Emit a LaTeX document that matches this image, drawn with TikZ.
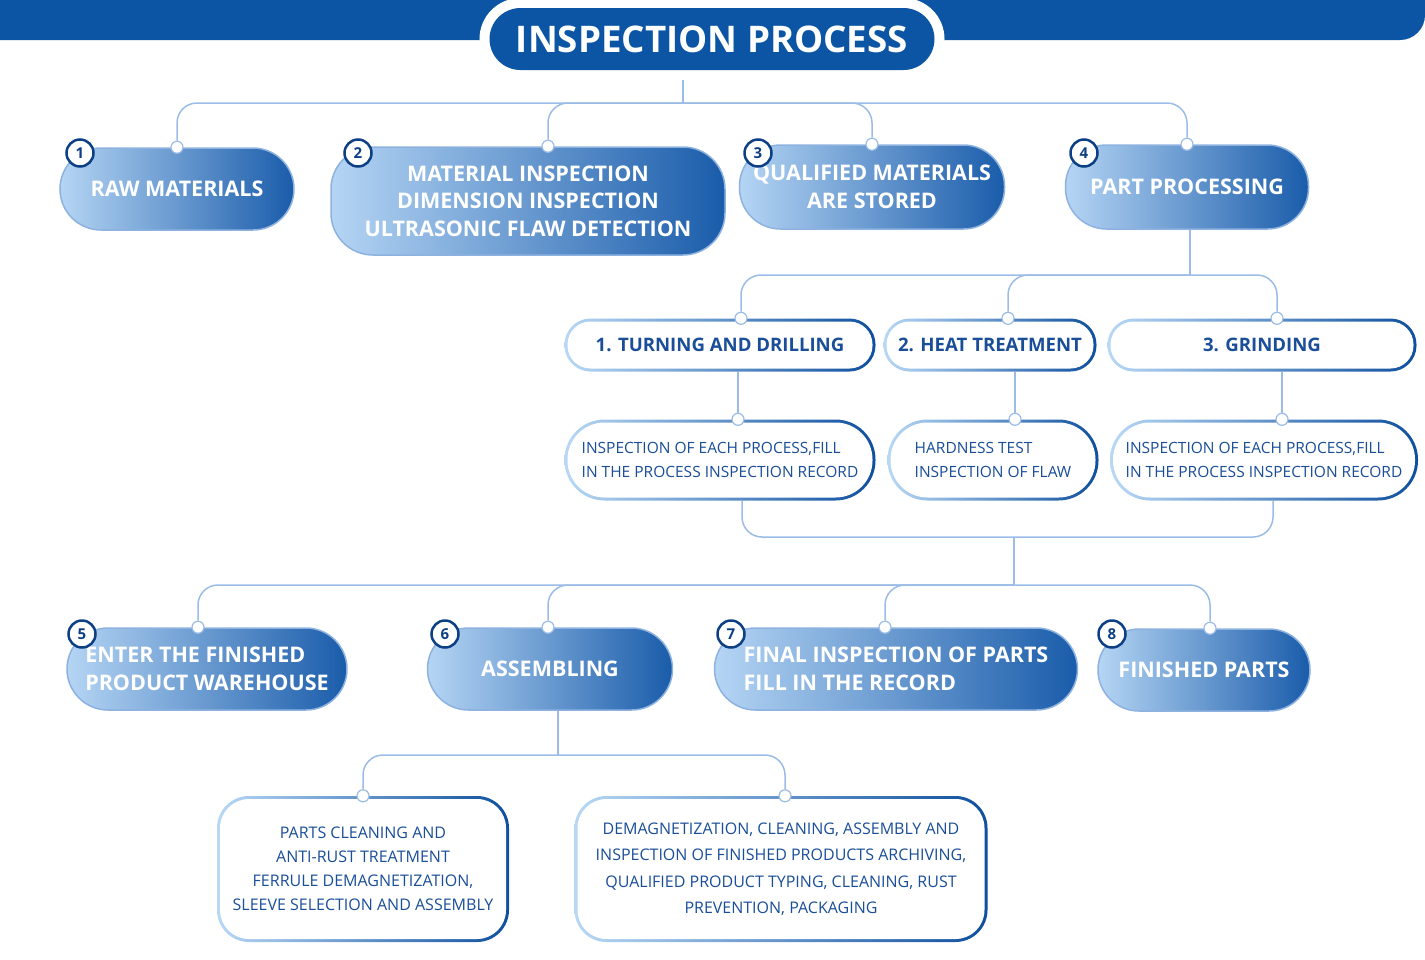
\documentclass[tikz,border=0pt]{standalone}
\usepackage{fontspec}
\setmainfont{Open Sans}
\usepackage{tikz}
\usetikzlibrary{positioning,calc}
\definecolor{bandblue}{HTML}{0B55A4}
\definecolor{lnk}{HTML}{9BBCE6}
\definecolor{lfill}{HTML}{B5D5F4}
\definecolor{dfill}{HTML}{1A5CAA}
\definecolor{edge}{HTML}{8DB2E0}
\definecolor{navy}{HTML}{0D3F85}
\definecolor{txt}{HTML}{1A4E99}
\definecolor{lrim}{HTML}{B8D8F5}
\definecolor{drim}{HTML}{0E4F9E}
\tikzset{stage/.style={rounded corners=#1, left color=lfill, right color=dfill, draw=edge, line width=1.5pt, text=white, font=\fontsize{21.5}{27.5}\selectfont\bfseries, align=center, inner sep=0pt}, stage/.default=41pt}
\tikzset{rim/.style 2 args={rounded corners=#1, left color=lrim, right color=drim, text=txt, align=center, inner sep=0pt,
  path picture={\fill[white, rounded corners=#2] ([shift={(3pt,-3pt)}]path picture bounding box.north west) rectangle ([shift={(-3pt,3pt)}]path picture bounding box.south east);}}}
\tikzset{substep/.style={rim={26pt}{23pt}, font=\fontsize{18.6}{20}\selectfont\bfseries}}
\tikzset{note/.style={rim={40pt}{37pt}, font=\fontsize{15.5}{24}\selectfont, align=left}}
\tikzset{memo/.style={rim={32pt}{29pt}, font=\fontsize{16}{24}\selectfont}}
\tikzset{badge/.style={circle, fill=white, draw=navy, line width=2.5pt, minimum size=27pt, inner sep=0pt, text=navy, font=\fontsize{15}{15}\selectfont\bfseries}}
\tikzset{dot/.style={circle, fill=white, draw=lnk, line width=1.2pt, minimum size=12pt, inner sep=0pt}}
\tikzset{link/.style={draw=lnk, line width=1.5pt, rounded corners=20pt}}

\begin{document}
\begin{tikzpicture}[x=1pt, y=-1pt]
  \useasboundingbox (0,0) rectangle (1425,959);
  % Banda superior y titulo
  \fill[bandblue, rounded corners=25pt] (-30,-30) rectangle (1425,40);
  \node[fill=bandblue, rounded corners=31pt, minimum width=445pt, minimum height=62pt, outer sep=10pt,
        preaction={draw=white, line width=20pt}, text=white, font=\fontsize{36.7}{36.7}\selectfont\bfseries]
        (title) at (712,39) {INSPECTION PROCESS};

  % Primer nivel
  \node[stage, minimum width=234pt, minimum height=82pt] (raw) at (177,189) {RAW MATERIALS};
  \node[stage=42pt, minimum width=394pt, minimum height=108pt] (matinsp) at (528,201) {MATERIAL INSPECTION\\DIMENSION INSPECTION\\ULTRASONIC FLAW DETECTION};
  \node[stage, minimum width=265pt, minimum height=84pt] (stored) at (872,187) {QUALIFIED MATERIALS\\ARE STORED};
  \node[stage, minimum width=243pt, minimum height=84pt] (partproc) at (1187,187) {PART PROCESSING};

  % Subprocesos
  \node[substep, minimum width=311pt, minimum height=53pt] (turn) at (720,345) {1. TURNING AND DRILLING};
  \node[substep, minimum width=213pt, minimum height=53pt] (heat) at (990,345) {2. HEAT TREATMENT};
  \node[substep, minimum width=309pt, minimum height=53pt] (grind) at (1262,345) {3. GRINDING};
  \node[note, minimum width=311pt, minimum height=81pt] (turnchk) at (720,460) {INSPECTION OF EACH PROCESS,FILL\\IN THE PROCESS INSPECTION RECORD};
  \node[note, minimum width=211pt, minimum height=81pt] (heatchk) at (993,460) {HARDNESS TEST\\INSPECTION OF FLAW};
  \node[note, minimum width=308pt, minimum height=81pt] (grindchk) at (1264,460) {INSPECTION OF EACH PROCESS,FILL\\IN THE PROCESS INSPECTION RECORD};

  % Segundo nivel
  \node[stage, minimum width=280pt, minimum height=82pt, align=left] (store) at (207,669) {ENTER THE FINISHED\\PRODUCT WAREHOUSE};
  \node[stage, minimum width=245pt, minimum height=82pt] (assy) at (550,669) {ASSEMBLING};
  \node[stage, minimum width=363pt, minimum height=82pt, align=left] (final) at (896,669) {FINAL INSPECTION OF PARTS\\FILL IN THE RECORD};
  \node[stage, minimum width=212pt, minimum height=82pt] (finished) at (1204,670) {FINISHED PARTS};

  % Detalle del montaje
  \node[memo, minimum width=292pt, minimum height=146pt] (clean) at (363,869) {PARTS CLEANING AND\\ANTI-RUST TREATMENT\\FERRULE DEMAGNETIZATION,\\SLEEVE SELECTION AND ASSEMBLY};
  \node[memo, minimum width=413pt, minimum height=146pt, font=\fontsize{16}{26.5}\selectfont] (archive) at (781,869) {DEMAGNETIZATION, CLEANING, ASSEMBLY AND\\INSPECTION OF FINISHED PRODUCTS ARCHIVING,\\QUALIFIED PRODUCT TYPING, CLEANING, RUST\\PREVENTION, PACKAGING};

  % Numeros
  \node[badge] (b1) at (80,153) {1};
  \node[badge] (b2) at (358,153) {2};
  \node[badge] (b3) at (758,153) {3};
  \node[badge] (b4) at (1084,153) {4};
  \node[badge] (b5) at (82,634) {5};
  \node[badge] (b6) at (445,634) {6};
  \node[badge] (b7) at (731,634) {7};
  \node[badge] (b8) at (1112,634) {8};

  % Puntos de union
  \node[dot] (d1) at (raw.north) {};
  \node[dot] (d2) at ([xshift=20pt]matinsp.north) {};
  \node[dot] (d3) at (stored.north) {};
  \node[dot] (d4) at (partproc.north) {};
  \node[dot] (e1) at ([xshift=21pt]turn.north) {};
  \node[dot] (e2) at ([xshift=18pt]heat.north) {};
  \node[dot] (e3) at ([xshift=15pt]grind.north) {};
  \node[dot] (f1) at ([xshift=18pt]turnchk.north) {};
  \node[dot] (f2) at ([xshift=22pt]heatchk.north) {};
  \node[dot] (f3) at ([xshift=18pt]grindchk.north) {};
  \node[dot] (g5) at ([xshift=-9pt]store.north) {};
  \node[dot] (g6) at ([xshift=-2pt]assy.north) {};
  \node[dot] (g7) at ([xshift=-11pt]final.north) {};
  \node[dot] (g8) at ([xshift=6pt]finished.north) {};
  \node[dot] (h1) at (clean.north) {};
  \node[dot] (h2) at ([xshift=4pt]archive.north) {};

  % Conectores
  \coordinate (j0) at (683,103);
  \coordinate (j1) at (1190,275);
  \coordinate (j2) at (1014,537);
  \coordinate (j3) at (1014,585);
  \coordinate (j4) at (558,755);
  \draw[link] (title.south -| j0) -- (j0);
  \foreach \d in {d1,d2,d3,d4} \draw[link] (j0) -| (\d);
  \draw[link] (partproc.south -| j1) -- (j1);
  \foreach \d in {e1,e2,e3} \draw[link] (j1) -| (\d);
  \draw[link] (f1 |- turn.south) -- (f1);
  \draw[link] (f2 |- heat.south) -- (f2);
  \draw[link] (f3 |- grind.south) -- (f3);
  \draw[link] ([xshift=22pt]turnchk.south) |- (j2);
  \draw[link] ([xshift=9pt]grindchk.south) |- (j2);
  \draw[link] (j2) -- (j3);
  \foreach \d in {g5,g6,g7,g8} \draw[link] (j3) -| (\d);
  \draw[link] ([xshift=8pt]assy.south) -- (j4);
  \foreach \d in {h1,h2} \draw[link] (j4) -| (\d);
\end{tikzpicture}
\end{document}
